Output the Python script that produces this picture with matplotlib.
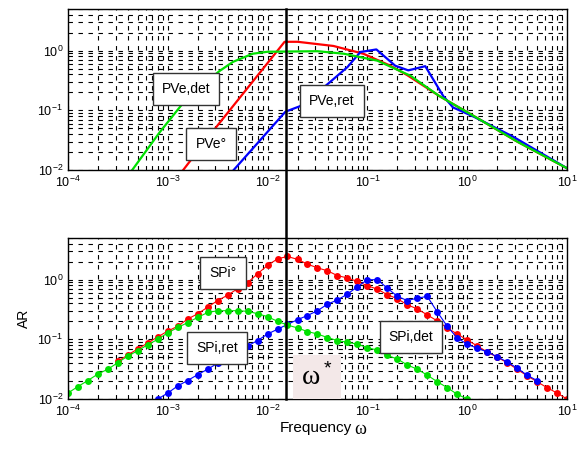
import numpy as np
import matplotlib
matplotlib.use("Agg")
import matplotlib.pyplot as plt
from matplotlib.lines import Line2D

plt.rcParams['font.family'] = ['Liberation Sans', 'DejaVu Sans']
plt.rcParams['mathtext.fontset'] = 'custom'
plt.rcParams['mathtext.rm'] = 'Liberation Serif'
plt.rcParams['mathtext.default'] = 'regular'

# ---- top panel: PVe curves (lines) ----
pve_det_w = [4.4e-4, 8.3e-4, 1.62e-3, 3.3e-3, 4.5e-3, 7.1e-3, 0.010, 0.0316, 0.058,
             0.126, 0.27, 0.525, 1.32, 3.16, 10.0]
pve_det_ar = [0.010, 0.043, 0.174, 0.457, 0.65, 0.89, 0.96, 0.98, 0.89,
              0.68, 0.38, 0.174, 0.071, 0.030, 0.0107]

pve_0_w = [1.38e-3, 3.1e-3, 0.0148, 0.020, 0.0457, 0.091, 0.17, 0.25, 0.525, 1.32, 3.16, 10.0]
pve_0_ar = [0.0093, 0.054, 1.41, 1.41, 1.20, 0.89, 0.56, 0.39, 0.174, 0.071, 0.030, 0.0107]

pve_ret_w = [4.4e-3, 0.0151, 0.021, 0.029, 0.063, 0.085, 0.123, 0.19, 0.257, 0.38,
             0.575, 0.72, 1.15, 2.9, 10.0]
pve_ret_ar = [0.0093, 0.095, 0.117, 0.174, 0.53, 0.95, 1.05, 0.56, 0.468, 0.55,
              0.174, 0.112, 0.079, 0.036, 0.0107]

# ---- bottom panel: SPi points (markers) ----
freq = [1.0e-4, 1.26e-4, 1.58e-4, 2.0e-4, 2.51e-4, 3.16e-4, 3.98e-4, 5.01e-4, 6.31e-4, 7.94e-4,
        1.0e-3, 1.26e-3, 1.58e-3, 2.0e-3, 2.51e-3, 3.16e-3, 3.98e-3, 5.01e-3, 6.31e-3, 7.94e-3,
        1.0e-2, 1.26e-2, 1.58e-2, 2.0e-2, 2.51e-2, 3.16e-2, 3.98e-2, 5.01e-2, 6.31e-2, 7.94e-2,
        1.0e-1, 1.26e-1, 1.58e-1, 2.0e-1, 2.51e-1, 3.16e-1, 3.98e-1, 5.01e-1, 6.31e-1, 7.94e-1,
        1.0, 1.26, 1.58, 2.0, 2.51, 3.16, 3.98, 5.01, 6.31, 7.94, 10.0]

spi_det_ar = [0.0126, 0.0162, 0.0204, 0.0263, 0.0316, 0.0407, 0.0525, 0.0646, 0.0813, 0.100,
              0.129, 0.158, 0.191, 0.234, 0.282, 0.302, 0.302, 0.302, 0.295, 0.269,
              0.240, 0.200, 0.174, 0.155, 0.135, 0.123, 0.107, 0.0955, 0.0891, 0.0832,
              0.0724, 0.0661, 0.0537, 0.0468, 0.0372, 0.0316, 0.0251, 0.0195, 0.0155, 0.0120,
              0.0100]
spi_0_ar = [0.0427, 0.0550, 0.0692, 0.0871, 0.110, 0.138, 0.166, 0.219, 0.269, 0.347,
            0.447, 0.550, 0.708, 0.891, 1.26, 1.74, 2.24, 2.45, 2.19, 1.82,
            1.58, 1.41, 1.17, 1.07, 0.933, 0.794, 0.692, 0.562, 0.479, 0.380,
            0.324, 0.257, 0.204, 0.155, 0.123, 0.0977, 0.0776, 0.0617, 0.0501, 0.0407,
            0.0316, 0.0245, 0.0195, 0.0155, 0.0126, 0.0100]
spi_ret_ar = [0.0100, 0.0126, 0.0166, 0.0204, 0.0257, 0.0316, 0.0398, 0.0501, 0.0631, 0.0776,
              0.0955, 0.123, 0.148, 0.178, 0.214, 0.251, 0.302, 0.389, 0.457, 0.575,
              0.759, 1.0, 1.0, 0.724, 0.525, 0.447, 0.490, 0.525, 0.288, 0.166,
              0.105, 0.0832, 0.0708, 0.0617, 0.0513, 0.0417, 0.0331, 0.0251, 0.0204]

w_star = 0.0152

fig = plt.figure(figsize=(5.77, 4.51), dpi=100)
ax1 = fig.add_axes([68/577, 1 - 170/451, 499/577, 161/451])
ax2 = fig.add_axes([68/577, 1 - 399/451, 499/577, 161/451])

for ax in (ax1, ax2):
    ax.set_xscale('log')
    ax.set_yscale('log')
    ax.set_xlim(1e-4, 10)
    ax.set_ylim(0.01, 5)
    ax.grid(True, which='both', color='k', lw=0.8, dashes=(4, 5))
    ax.tick_params(which='both', direction='in', labelsize=9, length=0)
    ax.set_yticks([0.01, 0.1, 1])
    ax.set_xticks([1e-4, 1e-3, 1e-2, 1e-1, 1, 10])
    for s in ax.spines.values():
        s.set_linewidth(1.0)

ax1.plot(pve_0_w, pve_0_ar, color='#ff0000', lw=1.6)
ax1.plot(pve_ret_w, pve_ret_ar, color='#0000ff', lw=1.6)
ax1.plot(pve_det_w, pve_det_ar, color='#00e000', lw=1.6)

ax2.plot(freq[5:51], spi_0_ar, color='#ff0000', lw=0.8, marker='o', ms=5, mec='none')
ax2.plot(freq[9:48], spi_ret_ar, color='#0000ff', lw=0.8, marker='o', ms=5, mec='none')
ax2.plot(freq[0:41], spi_det_ar, color='#00e000', lw=0.8, marker='o', ms=5, mec='none')

ax2.set_ylabel('AR', fontsize=10, labelpad=5)

# vertical omega* line across both panels
x_px = ax1.transData.transform((w_star, 1))[0] / fig.dpi / fig.get_figwidth()
fig.add_artist(Line2D([x_px, x_px], [1 - 9/451, 1 - 399/451], color='k', lw=1.8))

box = dict(boxstyle='square,pad=0.65', fc='white', ec='#333333', lw=1)
labels = [('PVe,det', 186, 89), ('PVe°', 211, 144), ('PVe,ret', 332, 101),
          ('SPi°', 223, 273), ('SPi,ret', 217, 348), ('SPi,det', 411, 337)]
for txt, x, y in labels:
    fig.text(x/577, 1 - y/451, txt, fontsize=10, ha='center', va='center', bbox=box)

fig.text(317/577, 1 - 377/451, r'$\mathrm{\omega}^*$', fontsize=20, ha='center', va='center',
         bbox=dict(boxstyle='square,pad=0.3', fc='#f3e8e8', ec='none'))

fig.text(352/577, 1 - 428/451, 'Frequency', fontsize=11, ha='right', va='center')
fig.text(354/577, 1 - 430/451, r'$\mathrm{\omega}$', fontsize=13, ha='left', va='center')

fig.savefig('out.png', dpi=100)
